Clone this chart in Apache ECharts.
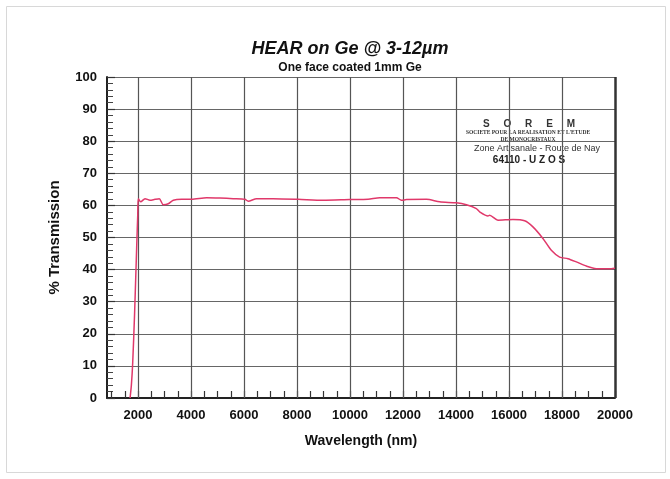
<!DOCTYPE html>
<html>
<head>
<meta charset="utf-8">
<script src="https://cdn.jsdelivr.net/npm/echarts@6/dist/echarts.min.js"></script>
<style>
html,body{margin:0;padding:0;background:#fff;}
#c{width:670px;height:479px;}
</style>
</head>
<body>
<div id="c"></div>
<script>
// Wavelength (nm)
const wavelength = [1700, 1750, 1800, 1870, 1950, 1990, 2011, 2102, 2264, 2452, 2641, 2803, 2954, 3142, 3331, 3647, 4024, 4590, 5091, 5593, 6034, 6158, 6475, 7101, 8043, 8986, 9992, 10682, 11123, 11753, 11941, 12130, 12884, 13385, 14015, 14392, 14769, 14893, 15206, 15270, 15583, 16149, 16590, 16903, 17280, 17597, 17910, 18224, 18540, 18917, 19294, 19859, 20000];
// % Transmission
const transmission = [0, 4, 11, 26, 47, 57, 62.1, 61.1, 62.1, 61.6, 61.9, 62.1, 60.2, 60.5, 61.6, 61.9, 61.9, 62.4, 62.3, 62.1, 61.9, 61.3, 62.1, 62.1, 61.9, 61.6, 61.8, 61.9, 62.4, 62.4, 61.6, 61.8, 61.9, 61.1, 60.8, 60.2, 59.0, 58.0, 56.7, 56.9, 55.4, 55.6, 55.2, 53.3, 49.7, 46.0, 43.9, 43.4, 42.4, 41.1, 40.3, 40.3, 40.4];
const xLabelValues = [2000, 4000, 6000, 8000, 10000, 12000, 14000, 16000, 18000, 20000];
const xMinorTickValues = [1000,1500,2000,2500,3000,3500,4000,4500,5000,5500,6000,6500,7000,7500,8000,8500,9000,9500,10000,10500,11000,11500,12000,12500,13000,13500,14000,14500,15000,15500,16000,16500,17000,17500,18000,18500,19000,19500,20000];
const yTicks = [0, 10, 20, 30, 40, 50, 60, 70, 80, 90, 100];

const data = wavelength.map((w, i) => [w, transmission[i]]);
const chart = echarts.init(document.getElementById('c'), null, {renderer: 'canvas'});
const lblFont = {fontFamily: 'Liberation Sans, Arial, sans-serif', fontWeight: 'bold', fontSize: 13, color: '#111'};

chart.setOption({
  backgroundColor: '#fff',
  animation: false,
  title: [
    {text: 'HEAR on Ge @ 3-12µm', left: 345, top: 35, textAlign: 'center',
     textStyle: {fontFamily: 'Liberation Sans, Arial, sans-serif', fontStyle: 'italic', fontWeight: 'bold', fontSize: 18, color: '#111'}},
    {text: 'One face coated 1mm Ge', left: 345, top: 57, textAlign: 'center',
     textStyle: {fontFamily: 'Liberation Sans, Arial, sans-serif', fontWeight: 'bold', fontSize: 12, color: '#111'}}
  ],
  grid: {left: 107, right: 55, top: 77, bottom: 81, containLabel: false},
  xAxis: {
    type: 'value', min: 830, max: 20000,
    name: 'Wavelength (nm)', nameLocation: 'middle', nameGap: 36,
    nameTextStyle: {fontFamily: 'Liberation Sans, Arial, sans-serif', fontWeight: 'bold', fontSize: 14, color: '#111'},
    axisLine: {show: true, lineStyle: {color: '#222', width: 2}},
    axisTick: {show: true, inside: true, length: 7, customValues: xMinorTickValues, lineStyle: {color: '#333', width: 1.2}},
    axisLabel: Object.assign({show: true, margin: 11, customValues: xLabelValues, formatter: v => String(v)}, lblFont),
    splitLine: {show: false}
  },
  yAxis: {
    type: 'value', min: 0, max: 100, interval: 10,
    name: '% Transmission', nameLocation: 'middle', nameGap: 45,
    nameTextStyle: {fontFamily: 'Liberation Sans, Arial, sans-serif', fontWeight: 'bold', fontSize: 15, color: '#111'},
    axisLine: {show: true, lineStyle: {color: '#222', width: 2}},
    axisTick: {show: true, inside: true, length: 8, lineStyle: {color: '#333', width: 1.2}},
    minorTick: {show: true, splitNumber: 5, length: 6, lineStyle: {color: '#444', width: 1}},
    axisLabel: Object.assign({show: true, margin: 10, formatter: v => String(v)}, lblFont),
    splitLine: {show: true, lineStyle: {color: '#666', width: 1.2}}
  },
  graphic: [
    {type: 'rect', left: 4, top: 4, shape: {width: 659, height: 466}, style: {fill: 'none', stroke: '#d8d8d8', lineWidth: 1}, silent: true},
    {type: 'text', x: 529, y: 119, style: {text: 'S     O     R     E     M', align: 'center', font: 'bold 10px "Liberation Sans", Arial', fill: '#333'}},
    {type: 'text', x: 528, y: 130, style: {text: 'SOCIETE POUR LA REALISATION ET L\'ETUDE', align: 'center', font: 'bold 5.5px "Liberation Serif", serif', fill: '#333'}},
    {type: 'text', x: 528, y: 137, style: {text: 'DE MONOCRISTAUX', align: 'center', font: 'bold 5.5px "Liberation Serif", serif', fill: '#333'}},
    {type: 'text', x: 537, y: 144, style: {text: 'Zone Artisanale - Route de Nay', align: 'center', font: '9px "Liberation Sans", Arial', fill: '#333'}},
    {type: 'text', x: 529, y: 155, style: {text: '64110 - U Z O S', align: 'center', font: 'bold 10px "Liberation Sans", Arial', fill: '#222'}}
  ],
  series: [{
    type: 'line',
    data: data,
    showSymbol: false,
    smooth: 0.25,
    lineStyle: {color: '#e0386a', width: 1.5},
    z: 5,
    markLine: {
      silent: true,
      symbol: ['none', 'none'],
      label: {show: false},
      lineStyle: {color: '#555', width: 1.2, type: 'solid'},
      data: xLabelValues.map(v => ({xAxis: v, lineStyle: v === 20000 ? {color: '#333', width: 2.5, type: 'solid'} : undefined}))
    }
  }]
});
</script>
</body>
</html>
